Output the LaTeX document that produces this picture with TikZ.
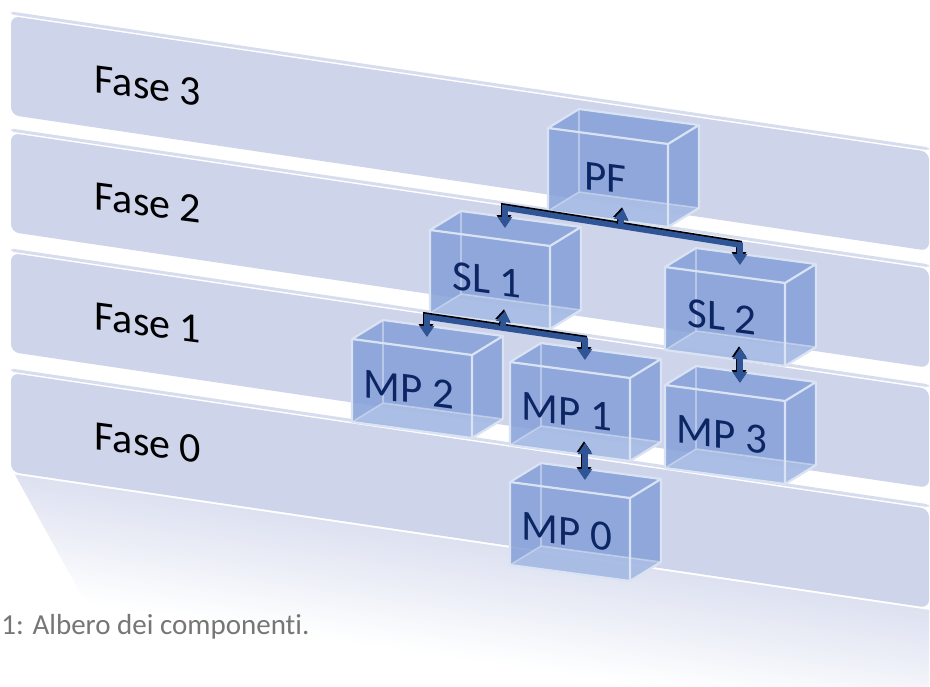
\documentclass[tikz,border=0pt]{standalone}
\usepackage{fontspec}
\setmainfont{Carlito}[Ligatures={NoCommon}]
\usetikzlibrary{calc,arrows.meta}

\definecolor{phase}{RGB}{206,212,234}
\definecolor{boxface}{RGB}{132,160,216}
\definecolor{boxfloor}{RGB}{180,197,233}
\definecolor{boxedge}{RGB}{218,227,243}
\definecolor{boxtext}{RGB}{12,38,100}
\definecolor{linkblue}{RGB}{47,85,151}
\definecolor{captiongray}{RGB}{118,118,118}

\tikzset{
  phaselabel/.style={font=\fontsize{21}{24}\selectfont, yslant=-0.13},
  boxlabel/.style={font=\fontsize{21.5}{25}\selectfont, text=boxtext, yslant=-0.13},
  boxline/.style={draw=boxedge, line width=1.1pt, line join=round},
  hiddenline/.style={draw=boxedge, line width=0.8pt, opacity=0.55},
  link/.style={draw=linkblue, line width=2.8pt, line join=miter,
    >={Triangle[width=7pt,length=5.5pt]},
    preaction={draw=black, line width=2.8pt,
      transform canvas={shift={(-0.5pt,0.9pt)}}}},
}

\begin{document}
\begin{tikzpicture}[x=0.5pt,y=0.5pt]

\useasboundingbox (0,0) rectangle (930,-686);
\clip (0,0) rectangle (930,-686);

% a box: name, front top-left corner, text
\def\cuboid#1#2#3#4{%
  \coordinate (#1-a) at (#2,-#3);
  \coordinate (#1-b) at ($(#1-a)+(120,-16)$);
  \coordinate (#1-c) at ($(#1-b)+(0,-83)$);
  \coordinate (#1-d) at ($(#1-a)+(0,-83)$);
  \fill[boxface, fill opacity=0.85] (#1-a) -- (#1-b) -- (#1-c) -- (#1-d) -- cycle;
  \fill[boxface, fill opacity=0.85] (#1-a) -- ++(31,19) -- ($(#1-b)+(31,19)$) -- (#1-b) -- cycle;
  \fill[boxface, fill opacity=0.85] (#1-b) -- ++(31,19) -- ($(#1-c)+(31,19)$) -- (#1-c) -- cycle;
  \fill[boxfloor, fill opacity=0.7] (#1-d) -- ++(31,19) -- ($(#1-c)+(31,19)$) -- (#1-c) -- cycle;
  \draw[hiddenline] (#1-d) -- ++(31,19) -- ($(#1-c)+(31,19)$)
    ($(#1-a)+(31,19)$) -- ++(0,-83);
  \draw[boxline] (#1-a) -- (#1-b) -- (#1-c) -- (#1-d) -- cycle
    (#1-a) -- ++(31,19) -- ($(#1-b)+(31,19)$) -- (#1-b)
    ($(#1-b)+(31,19)$) -- ($(#1-c)+(31,19)$) -- (#1-c);
  \coordinate (#1-top) at ($(#1-a)+(75,2)$);
  \coordinate (#1-bot) at ($(#1-a)+(75,-81)$);
  \node[boxlabel] (#1) at ($(#1-a)+(57,-50)$) {#4};
}

% phases and the reflection under the last one
\begin{scope}[shift={(11,0)}, yslant=-0.148]
\foreach \top/\name in {16/3,133/2,253/1,373/0}{
  \fill[phase!80!white, rounded corners=1.5pt] (0,-\top+4.5) rectangle (918,-\top+1.5);
  \fill[phase, rounded corners=4pt] (0,-\top) rectangle (918,-\top-99);
  \node[phaselabel] (fase\name) at (137,-\top-49.5) {Fase \name};
}
\begin{scope}
\clip (4,-474) -- (918,-474) -- (918,-600) -- (79.6,-600) -- cycle;
\foreach \i in {0,...,41}{
  \pgfmathsetmacro\dy{3*\i}
  \pgfmathtruncatemacro\tint{max(0,70-1.8*\i)}
  \fill[phase!\tint!white] (0,{-474-\dy}) rectangle (918,{-477.5-\dy});
}
\end{scope}
\end{scope}

\cuboid{pf}{548}{128}{PF}
\cuboid{sl1}{430}{230}{SL 1}
\cuboid{sl2}{665}{267}{SL 2}
\cuboid{mp2}{352}{339}{MP 2}
\cuboid{mp1}{510}{362}{MP 1}
\cuboid{mp3}{665}{385}{MP 3}
\cuboid{mp0}{510}{482}{MP 0}

% links
\coordinate (bar1-l) at ($(sl1-top)+(0,20)$);
\coordinate (bar1-r) at ($(sl2-top)+(0,20)$);
\draw[link,<->] (sl1-top) -- (bar1-l) -- (bar1-r) -- (sl2-top);
\draw[link,->] ($(bar1-l)!(pf-bot)!(bar1-r)$) -- (pf-bot);

\coordinate (bar2-l) at ($(mp2-top)+(0,20)$);
\coordinate (bar2-r) at ($(mp1-top)+(0,20)$);
\draw[link,<->] (mp2-top) -- (bar2-l) -- (bar2-r) -- (mp1-top);
\draw[link,->] ($(bar2-l)!(sl1-bot)!(bar2-r)$) -- (sl1-bot);

\draw[link,<->] (sl2-bot) -- (mp3-top);
\draw[link,<->] (mp1-bot) -- (mp0-top);

\node[font=\fontsize{14.5}{17}\selectfont, text=captiongray, anchor=west, inner sep=0pt]
  (caption) at (1,-627) {1: Albero dei componenti.};

\end{tikzpicture}
\end{document}
